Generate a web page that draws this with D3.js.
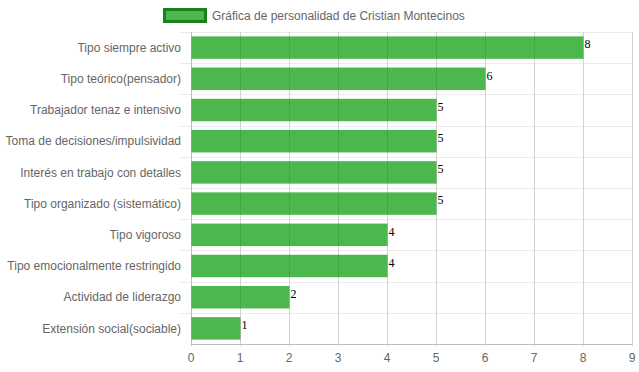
<!DOCTYPE html>
<html><head><meta charset="utf-8">
<script src="https://cdn.jsdelivr.net/npm/d3@7"></script>
<style>html,body{margin:0;padding:0;background:#fff;}svg{display:block;}</style>
</head><body>
<script>
const categories = ["Tipo siempre activo","Tipo teórico(pensador)","Trabajador tenaz e intensivo","Toma de decisiones/impulsividad","Interés en trabajo con detalles","Tipo organizado (sistemático)","Tipo vigoroso","Tipo emocionalmente restringido","Actividad de liderazgo","Extensión social(sociable)"];
const values = [8,6,5,5,5,5,4,4,2,1];
const xTicks = [0,1,2,3,4,5,6,7,8,9];
const seriesLabel = "Gráfica de personalidad de Cristian Montecinos";

const W = 639, H = 372;
const m = {left:191, right:7, top:32, bottom:28};
const svg = d3.select("body").append("svg").attr("width",W).attr("height",H);
const x = d3.scaleLinear().domain([0,9]).range([m.left, W-m.right]);
const y = d3.scaleBand().domain(categories).range([m.top, H-m.bottom]).paddingInner(0).paddingOuter(0);
const barH = y.bandwidth()*0.72;
const fill = "rgba(0,153,0,0.7)";

// horizontal grid lines at band boundaries
const bounds = categories.map(c => y(c));
svg.append("g").selectAll("line").data(bounds).join("line")
  .attr("x1", m.left-11).attr("x2", W-m.right)
  .attr("y1", d=>Math.round(d)+0.5).attr("y2", d=>Math.round(d)+0.5)
  .attr("stroke","#ebebeb").attr("stroke-width",1);

// vertical grid lines
svg.append("g").selectAll("line").data(xTicks).join("line")
  .attr("x1", d=>Math.round(x(d))+0.5).attr("x2", d=>Math.round(x(d))+0.5)
  .attr("y1", m.top).attr("y2", H-m.bottom+2)
  .attr("stroke", d=> d===0 ? "#bdbdbd" : "#d2d2d2").attr("stroke-width",1);

// bottom axis line
svg.append("line").attr("x1", m.left).attr("x2", W-m.right)
  .attr("y1", H-m.bottom+0.5).attr("y2", H-m.bottom+0.5)
  .attr("stroke","#bdbdbd");

// bars
svg.append("g").selectAll("rect").data(values).join("rect")
  .attr("x", x(0)+0.5)
  .attr("y", (d,i)=> y(categories[i]) + (y.bandwidth()-barH)/2)
  .attr("width", d=> x(d)-x(0))
  .attr("height", barH)
  .attr("fill", fill);

// value labels
svg.append("g").selectAll("text").data(values).join("text")
  .attr("x", d=> x(d)+1.5)
  .attr("y", (d,i)=> y(categories[i]) + (y.bandwidth()-barH)/2 + 12)
  .attr("font-family","'Liberation Serif','Times New Roman',serif")
  .attr("font-size",12).attr("fill","#000")
  .text(d=>d);

// y labels
svg.append("g").selectAll("text").data(categories).join("text")
  .attr("x", m.left-10)
  .attr("y", d=> y(d)+y.bandwidth()/2)
  .attr("dy","0.35em")
  .attr("text-anchor","end")
  .attr("font-family","'Liberation Sans',Arial,sans-serif")
  .attr("font-size",12).attr("fill","#666")
  .text(d=>d);

// x tick labels
svg.append("g").selectAll("text").data(xTicks).join("text")
  .attr("x", d=> x(d))
  .attr("y", H-m.bottom+14)
  .attr("dy","0.35em")
  .attr("text-anchor","middle")
  .attr("font-family","'Liberation Sans',Arial,sans-serif")
  .attr("font-size",12).attr("fill","#666")
  .text(d=>d);

// legend
const lg = svg.append("g");
lg.append("rect").attr("x",164.5).attr("y",9.5).attr("width",41).attr("height",12)
  .attr("fill",fill).attr("stroke","#1a801a").attr("stroke-width",3);
lg.append("text").attr("x",212).attr("y",15.5).attr("dy","0.35em")
  .attr("font-family","'Liberation Sans',Arial,sans-serif")
  .attr("font-size",12).attr("fill","#666").text(seriesLabel);
</script>
</body></html>
